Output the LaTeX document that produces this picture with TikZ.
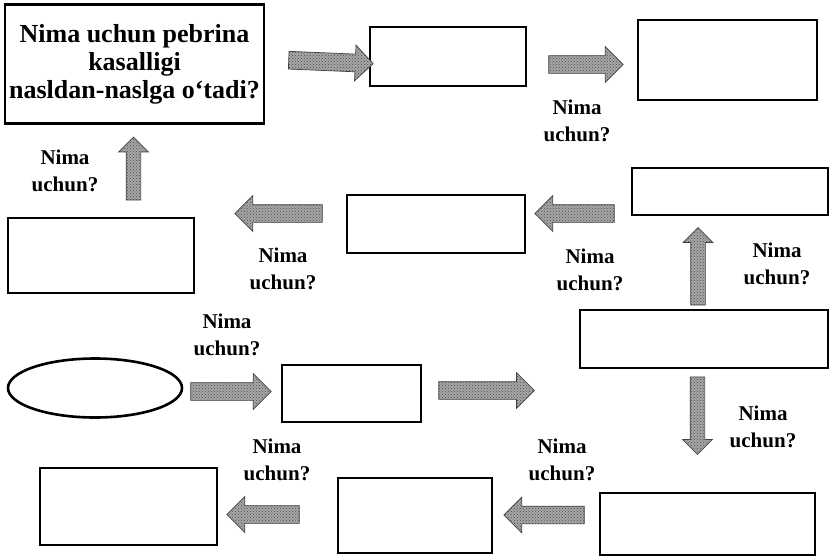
\documentclass[tikz,border=0pt]{standalone}
\usepackage{fontspec}
\setmainfont{Liberation Serif}
\usetikzlibrary{calc,shapes.geometric,shapes.arrows,patterns}

% block arrow drawn from one point to another
\newcommand{\strelka}[3][]{%
  \path let \p1=#2, \p2=#3,
    \n1={atan2(\y2-\y1,\x2-\x1)}, \n2={veclen(\x2-\x1,\y2-\y1)} in
    node[strelka,#1,rotate=\n1,minimum height=\n2] at ($#2!0.5!#3$) {};}

\tikzset{
  kutu/.style={draw=black,line width=2.6pt,inner sep=0pt},
  soru/.style={font=\bfseries\fontsize{21}{27}\selectfont,align=center,inner sep=0pt},
  strelka/.style={single arrow,draw=gray!50!black,fill=gray!70,line width=0.7pt,
    postaction={pattern=crosshatch dots,pattern color=gray!60!black},
    inner xsep=0pt,inner ysep=8.5pt,single arrow head extend=9pt},
  ingichka/.style={inner ysep=7pt,single arrow head extend=7.5pt}
}

\begin{document}
\begin{tikzpicture}[x=1pt,y=-1pt]
  \useasboundingbox (0,0) rectangle (830,558);

  % boxes
  \node[kutu,minimum width=259pt,minimum height=119pt,align=center,
    font=\bfseries\fontsize{26}{28}\selectfont] (savol) at (134.5,64)
    {Nima uchun pebrina\\kasalligi\\nasldan-naslga o‘tadi?};
  \node[kutu,minimum width=156pt,minimum height=59pt] (b2) at (448,56.5) {};
  \node[kutu,minimum width=179pt,minimum height=80pt] (b3) at (727.5,60) {};
  \node[kutu,minimum width=196pt,minimum height=47pt] (b6) at (730,191.5) {};
  \node[kutu,minimum width=178pt,minimum height=58pt] (b5) at (436,224) {};
  \node[kutu,minimum width=186pt,minimum height=75pt] (b4) at (101,255.5) {};
  \node[kutu,minimum width=248pt,minimum height=58pt] (b7) at (704,339) {};
  \node[kutu,ellipse,minimum width=174pt,minimum height=59pt] (oval) at (95,388) {};
  \node[kutu,minimum width=139pt,minimum height=57pt] (b10) at (351.5,393.5) {};
  \node[kutu,minimum width=215pt,minimum height=62pt] (b8) at (707.5,524) {};
  \node[kutu,minimum width=154pt,minimum height=75pt] (b9) at (415,515.5) {};
  \node[kutu,minimum width=177pt,minimum height=77pt] (b11) at (128.5,506.5) {};
  \coordinate (bosh) at (530,390.5);

  % arrows
  \strelka{([xshift=19pt,yshift=4pt]savol.east)}{([yshift=-7pt]b2.west)}
  \strelka{([xshift=17pt,yshift=-8pt]b2.east)}{([xshift=-18pt,yshift=-4.5pt]b3.west)}
  \strelka[ingichka]{([xshift=32.5pt,yshift=13pt]b4.north)}{([xshift=-1pt,yshift=-16pt]savol.south)}
  \strelka{([xshift=-19pt,yshift=10.5pt]b5.west)}{([xshift=44pt,yshift=42pt]b4.east)}
  \strelka{([xshift=-12pt,yshift=-22pt]b6.west)}{([xshift=13pt,yshift=10.5pt]b5.east)}
  \strelka[ingichka]{([xshift=-6pt]b7.north)}{([xshift=-32pt,yshift=-15pt]b6.south)}
  \strelka[ingichka]{([xshift=-6.5pt,yshift=-4pt]b7.south)}{([xshift=-10pt,yshift=41pt]b8.north)}
  \strelka{([xshift=-10pt,yshift=9pt]b8.west)}{([xshift=15pt,yshift=0.5pt]b9.east)}
  \strelka{([xshift=-33pt,yshift=1pt]b9.west)}{([xshift=13pt,yshift=-8pt]b11.east)}
  \strelka{([xshift=3pt,yshift=-3.5pt]oval.east)}{([xshift=-14pt,yshift=2pt]b10.west)}
  \strelka{([xshift=12pt,yshift=3pt]b10.east)}{(bosh)}

  % labels
  \node[soru] (s1) at (577,121) {Nima\\uchun?};
  \node[soru] (s2) at (65,171) {Nima\\uchun?};
  \node[soru] (s3) at (283,269) {Nima\\uchun?};
  \node[soru] (s4) at (590,270) {Nima\\uchun?};
  \node[soru] (s5) at (777,264) {Nima\\uchun?};
  \node[soru] (s6) at (227,335) {Nima\\uchun?};
  \node[soru] (s7) at (763,427) {Nima\\uchun?};
  \node[soru] (s8) at (562,460) {Nima\\uchun?};
  \node[soru] (s9) at (277,460) {Nima\\uchun?};
\end{tikzpicture}
\end{document}
